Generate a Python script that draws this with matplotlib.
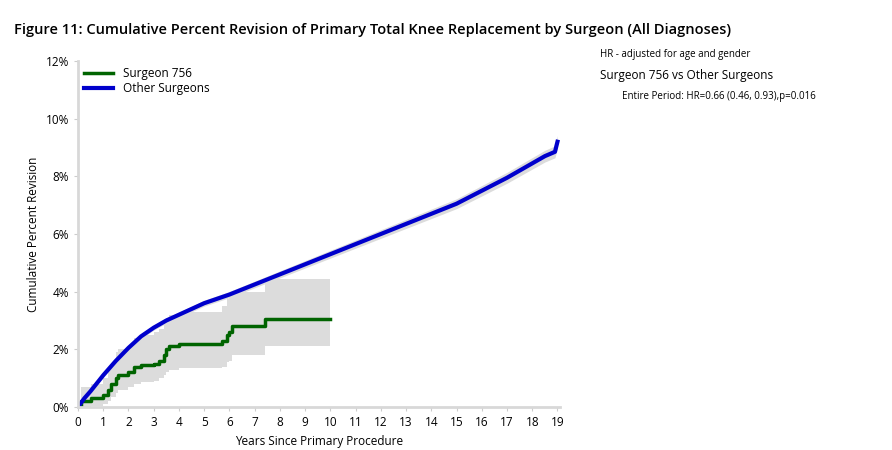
import numpy as np
import matplotlib.pyplot as plt

plt.rcParams['font.family'] = ['Open Sans', 'DejaVu Sans']

# Surgeon 756 (Stufen)
s_t = [0, 0.1, 0.5, 1.0, 1.2, 1.3, 1.5, 1.6, 2.0, 2.2, 2.5, 3.0, 3.2, 3.4, 3.5, 3.6, 4.0, 5.7, 5.9, 6.0, 6.1, 7.4, 10.0]
s_y = [0, 0.2, 0.3, 0.4, 0.6, 0.8, 1.0, 1.1, 1.2, 1.4, 1.45, 1.5, 1.6, 1.8, 2.0, 2.1, 2.2, 2.3, 2.5, 2.6, 2.8, 3.05, 3.05]
s_lo = [0, 0.0, 0.05, 0.1, 0.2, 0.35, 0.5, 0.6, 0.7, 0.8, 0.85, 0.9, 1.0, 1.1, 1.2, 1.3, 1.35, 1.4, 1.55, 1.6, 1.8, 2.1, 2.1]
s_hi = [0, 0.7, 0.8, 1.0, 1.3, 1.5, 1.9, 2.0, 2.1, 2.4, 2.5, 2.6, 2.7, 2.95, 3.1, 3.2, 3.3, 3.5, 3.75, 3.8, 4.0, 4.45, 4.45]

# Other Surgeons
o_t = [0, 0.25, 0.5, 1.0, 1.5, 2.0, 2.5, 3.0, 3.5, 4.0, 5.0, 6.0, 7.0, 8.0, 9.0, 10.0, 11.0, 12.0, 13.0, 14.0, 15.0, 16.0, 17.0, 18.0, 18.5, 18.9, 19.0]
o_y = [0, 0.3, 0.55, 1.1, 1.6, 2.05, 2.45, 2.75, 3.0, 3.2, 3.6, 3.9, 4.25, 4.6, 4.95, 5.3, 5.65, 6.0, 6.35, 6.7, 7.05, 7.5, 7.95, 8.45, 8.7, 8.85, 9.2]

fig = plt.figure(figsize=(8.92, 4.5), dpi=100)
ax = fig.add_axes([78/892, 1 - 407/450, 482/892, 346/450])

ax.fill_between(s_t, s_lo, s_hi, step="post", color="#dcdcdc", lw=0)
o_y_arr = np.array(o_y)
ax.fill_between(o_t, o_y_arr * 0.98 - 0.03, o_y_arr * 1.02 + 0.03, color="#dcdcdc", lw=0)
ax.step(s_t, s_y, where="post", color="#006400", lw=2.5, label="Surgeon 756")
ax.plot(o_t, o_y, color="#0000cc", lw=3, label="Other Surgeons")

ax.set_xlim(0, 19.1)
ax.set_ylim(0, 12)
ax.set_xticks(range(20))
ax.set_yticks(range(0, 13, 2))
ax.set_yticklabels([f"{v}%" for v in range(0, 13, 2)])
ax.tick_params(labelsize=8.5, length=3, color="#cccccc")
for sp in ["top", "right"]:
    ax.spines[sp].set_visible(False)
for sp in ["left", "bottom"]:
    ax.spines[sp].set_color("#d8d8d8")
    ax.spines[sp].set_linewidth(2)
ax.set_xlabel("Years Since Primary Procedure", fontsize=8.5)
ax.set_ylabel("Cumulative Percent Revision", fontsize=8.5)
ax.legend(loc="upper left", frameon=False, fontsize=8.5, handlelength=2.5,
          borderaxespad=0.1, labelspacing=0.2)

fig.text(14/892, 1 - 30/450, "Figure 11: Cumulative Percent Revision of Primary Total Knee Replacement by Surgeon (All Diagnoses)",
         fontsize=10.5, fontweight="semibold", va="center")
fig.text(600/892, 1 - 54/450, "HR - adjusted for age and gender", fontsize=7, va="center")
fig.text(600/892, 1 - 75/450, "Surgeon 756 vs Other Surgeons", fontsize=8.5, va="center")
fig.text(622/892, 1 - 96/450, "Entire Period: HR=0.66 (0.46, 0.93),p=0.016", fontsize=7, va="center")

fig.savefig("out.png", dpi=100)
